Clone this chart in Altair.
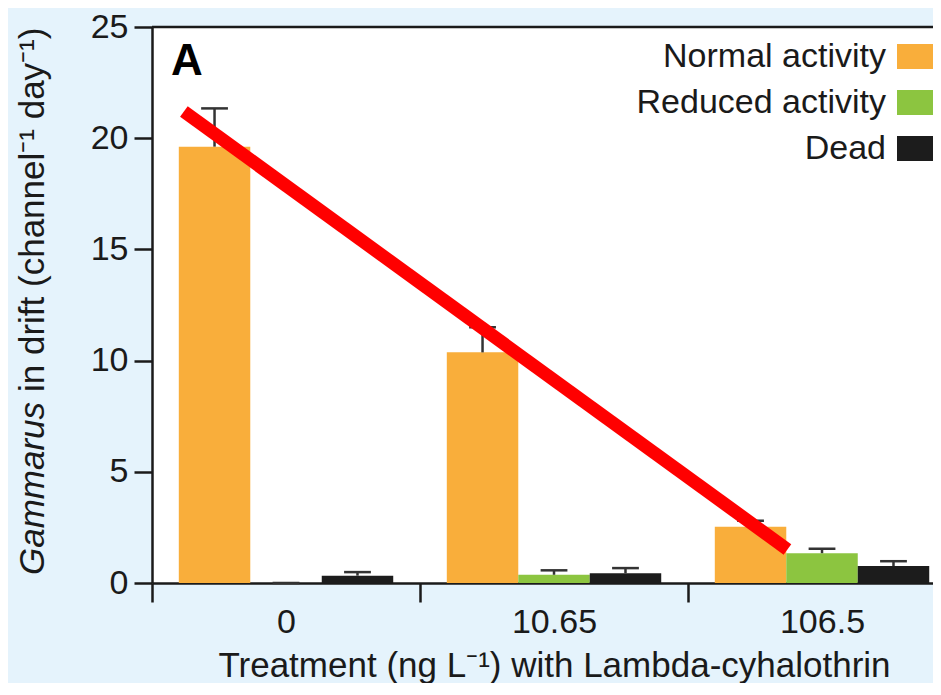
import altair as alt
import pandas as pd

# ---- data ----
treatments = ["0", "10.65", "106.5"]
statuses = ["Normal activity", "Reduced activity", "Dead"]
colors = ["#F9AE3B", "#8CC540", "#1C1C1C"]
normal = [19.62, 10.37, 2.53]
normal_err = [1.72, 1.13, 0.27]
reduced = [0.0, 0.37, 1.34]
reduced_err = [0.0, 0.20, 0.20]
dead = [0.33, 0.44, 0.76]
dead_err = [0.16, 0.23, 0.22]
# red annotation line (x in treatment-band units, y in data units)
trend_x = [0.119, 2.371]
trend_y = [21.2, 1.51]
y_ticks = [0, 5, 10, 15, 20, 25]
panel_letter = ["A"]
y_title_italic = ["Gammarus"]
y_title_rest = ["in drift (channel\u207b\u00b9 day\u207b\u00b9)"]
x_title = "Treatment (ng L\u207b\u00b9) with Lambda-cyhalothrin"

rows = []
for si, (s, vals, errs) in enumerate(zip(statuses, [normal, reduced, dead],
                                         [normal_err, reduced_err, dead_err])):
    for gi, t in enumerate(treatments):
        rows.append({"gi": gi, "si": si, "treatment": t, "status": s,
                     "value": vals[gi], "err": errs[gi]})
df = pd.DataFrame(rows)
trend = pd.DataFrame({"x": [trend_x[0]], "x2": [trend_x[1]],
                      "y": [trend_y[0]], "y2": [trend_y[1]]})

FONT = "Liberation Sans"
INK = "#1a1a1a"
BAR_W = 0.2667
CAP = 0.05
PLOT_W = 781
BAND_PX = 268

xscale = alt.Scale(domain=[0, PLOT_W / BAND_PX], nice=False, zero=False)
yscale = alt.Scale(domain=[0, 25], nice=False, zero=False)
label_expr = "[" + ",".join(f"'{t}'" for t in treatments) + "][datum.value]"

xaxis = alt.Axis(values=list(range(len(treatments))), labelExpr=label_expr,
                 labelOffset=BAND_PX / 2, labelFlush=False, labelOverlap=False,
                 tickSize=19, labelPadding=3, grid=False,
                 titleX=402, titleY=93, titleAlign="center",
                 titleBaseline="alphabetic")
yaxis = alt.Axis(values=y_ticks, tickSize=18, labelPadding=6, grid=False)

base = alt.Chart(df).transform_calculate(
    xs=f"datum.gi + 0.1 + datum.si * {BAR_W}",
    top="datum.value + datum.err",
).transform_calculate(
    xe=f"datum.xs + {BAR_W}",
    xm=f"datum.xs + {BAR_W / 2}",
).transform_calculate(
    cl=f"datum.xm - {CAP}",
    cr=f"datum.xm + {CAP}",
)

bars = base.mark_rect().encode(
    x=alt.X("xs:Q", scale=xscale, axis=xaxis, title=x_title),
    x2="xe:Q",
    y=alt.Y("value:Q", scale=yscale, axis=yaxis, title=None),
    y2=alt.datum(0),
    color=alt.Color("status:N", scale=alt.Scale(domain=statuses, range=colors),
                    legend=alt.Legend(
                        title=None, orient="none", legendX=745, legendY=11,
                        direction="vertical", padding=0,
                        symbolType="M-1,-0.676L1,-0.676L1,0.676L-1,0.676Z",
                        symbolSize=1369, symbolStrokeWidth=0, symbolOpacity=1,
                        symbolOffset=0,
                        labelAlign="right", labelOffset={"expr": "-48"},
                        labelBaseline="middle",
                        labelFont=FONT, labelFontSize=34, labelColor=INK,
                        labelLimit=0, rowPadding=10)),
)

err_v = base.mark_rule(color="#333333", strokeWidth=2.5).encode(
    x=alt.X("xm:Q", scale=xscale, title=x_title),
    y=alt.Y("value:Q", scale=yscale, title=None),
    y2="top:Q",
)
err_cap = base.mark_rule(color="#333333", strokeWidth=2.5).encode(
    x=alt.X("cl:Q", scale=xscale, title=x_title),
    x2="cr:Q",
    y=alt.Y("top:Q", scale=yscale, title=None),
)

top_line = alt.Chart(pd.DataFrame({"v": [y_ticks[-1]]})).mark_rule(
    color=INK, strokeWidth=2.5).encode(y=alt.Y("v:Q", scale=yscale, title=None))

trend_line = alt.Chart(trend).mark_rule(
    color="#FF0000", strokeWidth=13, strokeCap="butt").encode(
    x=alt.X("x:Q", scale=xscale, title=x_title), x2="x2:Q",
    y=alt.Y("y:Q", scale=yscale, title=None), y2="y2:Q",
)

letter = alt.Chart(pd.DataFrame({"t": panel_letter})).mark_text(
    font=FONT, fontSize=44, fontWeight="bold", color="#000000",
    align="left", baseline="alphabetic").encode(
    text="t:N", x=alt.value(19), y=alt.value(48))

yt1 = alt.Chart(pd.DataFrame({"t": y_title_italic})).mark_text(
    font=FONT, fontSize=35, fontStyle="italic", color=INK, angle=270,
    align="left", baseline="middle").encode(
    text="t:N", x=alt.value(-119), y=alt.value(548))
yt2 = alt.Chart(pd.DataFrame({"t": y_title_rest})).mark_text(
    font=FONT, fontSize=35, color=INK, angle=270,
    align="left", baseline="middle").encode(
    text="t:N", x=alt.value(-119), y=alt.value(365))

chart = alt.layer(bars, err_v, err_cap, top_line, trend_line, letter, yt1, yt2).properties(
    width=PLOT_W, height=556,
    autosize=alt.AutoSizeParams(type="none"),
    padding={"left": 144, "top": 19, "right": 0, "bottom": 100},
    background="#E5F3FC",
).configure_view(fill="white", stroke=None).configure_axis(
    domainColor=INK, domainWidth=2.5, tickColor=INK, tickWidth=2.5,
    labelFont=FONT, labelFontSize=34, labelColor=INK,
    titleFont=FONT, titleFontSize=35, titleFontWeight="normal", titleColor=INK,
)

chart.save("out.html", embed_options={"renderer": "svg", "actions": False})
